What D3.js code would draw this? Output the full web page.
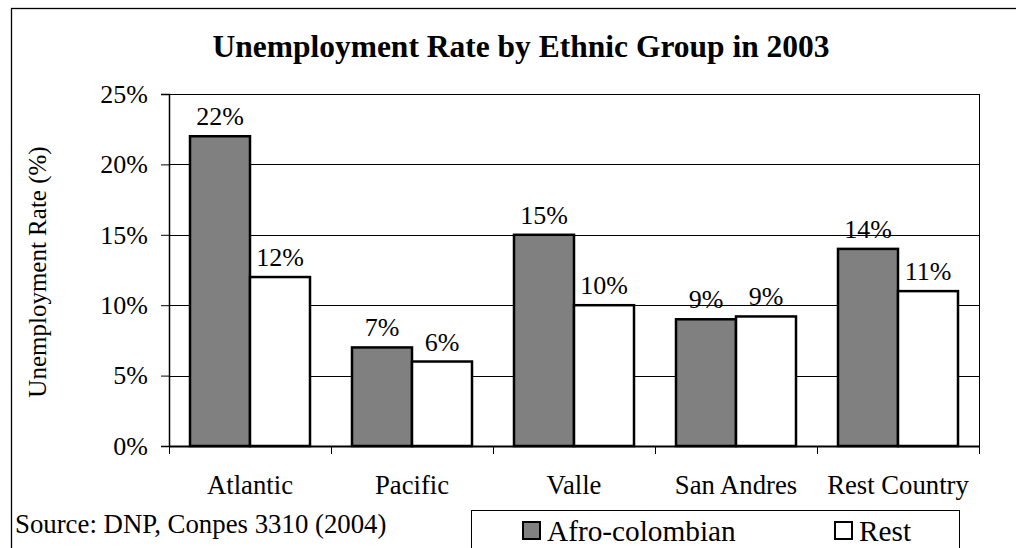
<!DOCTYPE html>
<html>
<head>
<meta charset="utf-8">
<script src="https://cdn.jsdelivr.net/npm/d3@7"></script>
<style>
  body { margin: 0; background: #fff; }
  svg text { font-family: "Liberation Serif", "Times New Roman", serif; fill: #000; }
</style>
</head>
<body>
<div id="chart"></div>
<script>
// data
var categories = ['Atlantic', 'Pacific', 'Valle', 'San Andres', 'Rest Country'];
var seriesNames = ['Afro-colombian', 'Rest'];
var afroValues = [0.22, 0.07, 0.15, 0.09, 0.14];
var restValues = [0.12, 0.06, 0.10, 0.092, 0.11];
var yTicks = [0, 0.05, 0.10, 0.15, 0.20, 0.25];
var seriesFill = { 'Afro-colombian': '#808080', 'Rest': '#ffffff' };

var W = 1016, H = 548;
var pLeft = 169, pRight = 979, pTop = 94, pBottom = 446;

var svg = d3.select('#chart').append('svg')
    .attr('width', W)
    .attr('height', H);

// outer chart frame (runs off the right / bottom)
svg.append('rect')
    .attr('x', 11.5).attr('y', 8.5)
    .attr('width', 1040).attr('height', 600)
    .attr('fill', 'none').attr('stroke', '#000').attr('stroke-width', 1.3);

var x0 = d3.scaleBand().domain(categories).range([pLeft, pRight]);
var x1 = d3.scaleBand().domain(seriesNames).range([0, x0.bandwidth()]).paddingOuter(0.35);
var y = d3.scaleLinear().domain([0, 0.25]).range([pBottom, pTop]);
var pct = d3.format('.0%');

// gridlines
svg.append('g').selectAll('line')
    .data(yTicks.slice(1))
    .enter().append('line')
    .attr('x1', pLeft).attr('x2', pRight)
    .attr('y1', function(d) { return Math.round(y(d)) + 0.5; })
    .attr('y2', function(d) { return Math.round(y(d)) + 0.5; })
    .attr('stroke', '#000').attr('stroke-width', 1);

// right edge of plot area
svg.append('line')
    .attr('x1', pRight + 0.5).attr('x2', pRight + 0.5)
    .attr('y1', pTop).attr('y2', pBottom)
    .attr('stroke', '#000');

// y axis
var yAxis = d3.axisLeft(y).tickValues(yTicks).tickFormat(pct).tickSize(8).tickPadding(13);
var ya = svg.append('g')
    .attr('transform', 'translate(' + pLeft + ',0)')
    .call(yAxis);
ya.select('.domain').attr('stroke', '#000').attr('stroke-width', 1.5);
ya.selectAll('.tick line').attr('stroke', '#000');
ya.selectAll('.tick text')
    .attr('font-size', 26)
    .style('font-family', '"Liberation Serif", serif');

var rows = categories.map(function(c, i) {
  return { cat: c, vals: [
    { name: seriesNames[0], v: afroValues[i] },
    { name: seriesNames[1], v: restValues[i] }
  ]};
});

// bars
var groups = svg.append('g').selectAll('g')
    .data(rows)
    .enter().append('g')
    .attr('transform', function(d) { return 'translate(' + x0(d.cat) + ',0)'; });

groups.selectAll('rect')
    .data(function(d) { return d.vals; })
    .enter().append('rect')
    .attr('x', function(d) { return x1(d.name); })
    .attr('width', x1.bandwidth())
    .attr('y', function(d) { return y(d.v); })
    .attr('height', function(d) { return pBottom - y(d.v); })
    .attr('fill', function(d) { return seriesFill[d.name]; })
    .attr('stroke', '#000')
    .attr('stroke-width', 2.5);

groups.selectAll('text')
    .data(function(d) { return d.vals; })
    .enter().append('text')
    .attr('x', function(d) { return x1(d.name) + x1.bandwidth() / 2; })
    .attr('y', function(d) { return y(d.v) - 11; })
    .attr('text-anchor', 'middle')
    .attr('font-size', 26)
    .text(function(d) { return pct(d.v); });

// x axis line and boundary ticks
svg.append('line')
    .attr('x1', pLeft).attr('x2', pRight)
    .attr('y1', pBottom + 0.5).attr('y2', pBottom + 0.5)
    .attr('stroke', '#000').attr('stroke-width', 2);

var bounds = categories.map(function(c) { return x0(c); }).concat([pRight]);
svg.append('g').selectAll('line')
    .data(bounds)
    .enter().append('line')
    .attr('x1', function(d) { return Math.round(d) + 0.5; })
    .attr('x2', function(d) { return Math.round(d) + 0.5; })
    .attr('y1', pBottom).attr('y2', pBottom + 8)
    .attr('stroke', '#000');

svg.append('g').selectAll('text')
    .data(categories)
    .enter().append('text')
    .attr('x', function(d) { return x0(d) + x0.bandwidth() / 2; })
    .attr('y', 494)
    .attr('text-anchor', 'middle')
    .attr('font-size', 26.7)
    .text(function(d) { return d; });

// title
svg.append('text')
    .attr('x', 521).attr('y', 57)
    .attr('text-anchor', 'middle')
    .attr('font-size', 31.5)
    .attr('font-weight', 'bold')
    .text('Unemployment Rate by Ethnic Group in 2003');

// y axis title
svg.append('text')
    .attr('transform', 'translate(46,' + ((pTop + pBottom) / 2 + 2) + ') rotate(-90)')
    .attr('text-anchor', 'middle')
    .attr('font-size', 25)
    .text('Unemployment Rate (%)');

// source note
svg.append('text')
    .attr('x', 15).attr('y', 533)
    .attr('font-size', 26.8)
    .text('Source: DNP, Conpes 3310 (2004)');

// legend
var lg = svg.append('g');
lg.append('rect')
    .attr('x', 471.5).attr('y', 510.5)
    .attr('width', 488).attr('height', 60)
    .attr('fill', '#fff').attr('stroke', '#000');

var legendX = [522, 834];
var items = lg.selectAll('g.item')
    .data(seriesNames)
    .enter().append('g')
    .attr('class', 'item')
    .attr('transform', function(d, i) { return 'translate(' + legendX[i] + ',0)'; });

items.append('rect')
    .attr('x', 1).attr('y', 522)
    .attr('width', 17).attr('height', 17)
    .attr('fill', function(d) { return seriesFill[d]; })
    .attr('stroke', '#000').attr('stroke-width', 2);

items.append('text')
    .attr('x', 25).attr('y', 541)
    .attr('font-size', 29.3)
    .text(function(d) { return d; });
</script>
</body>
</html>
